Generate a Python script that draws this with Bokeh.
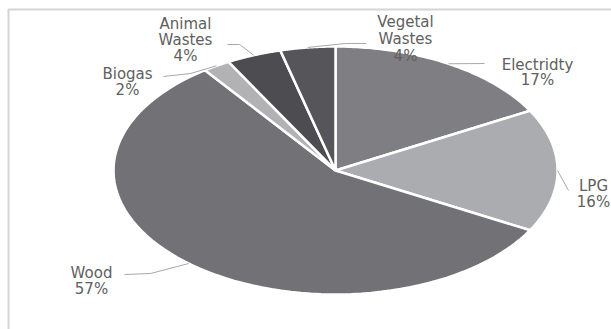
import numpy as np
from bokeh.plotting import figure
from bokeh.models import Range1d, ColumnDataSource
from bokeh.core.properties import value
from bokeh.embed import file_html
from bokeh.resources import INLINE

# ---- data ----
categories = ["Electridty", "LPG", "Wood", "Biogas", "Animal Wastes", "Vegetal Wastes"]
shares = [17, 16, 57, 2, 4, 4]
label_lines = [["Electridty", "17%"], ["LPG", "16%"], ["Wood", "57%"],
               ["Biogas", "2%"], ["Animal", "Wastes", "4%"], ["Vegetal", "Wastes", "4%"]]

# ---- styles / layout ----
colors = ["#7e7e83", "#abacaf", "#717176", "#b2b2b4", "#4c4c51", "#55555a"]
W, H = 611, 329
cx, cy, rx, ry = 335, 170, 222, 124
label_pos = {  # center x, first line y, line step
    "Electridty": (537, 64, 15),
    "LPG": (593, 185, 16),
    "Wood": (91, 272, 16),
    "Biogas": (127, 73, 16),
    "Animal Wastes": (185, 23, 16),
    "Vegetal Wastes": (405, 21, 17),
}
leaders = {
    "Electridty": [(None, None), (484, 63)],
    "LPG": [(None, None), (568, 190)],
    "Wood": [(None, None), (150, 273), (124, 274)],
    "Biogas": [(None, None), (190, 73), (163, 76)],
    "Animal Wastes": [(None, None), (239, 44), (227, 44)],
    "Vegetal Wastes": [(None, None), (345, 43), (366, 43)],
}

p = figure(width=W, height=H, output_backend="svg", toolbar_location=None,
           x_range=Range1d(0, W), y_range=Range1d(H, 0), min_border=0)
p.axis.visible = False
p.grid.visible = False
p.outline_line_color = None
p.background_fill_color = "white"
p.border_fill_color = "white"

# chart frame (extends beyond the visible window right and bottom)
p.line([8, 8, W + 20], [H + 20, 9, 9], line_color="#d4d4d4", line_width=2)

# pie slices (clockwise from 12 o'clock), circle stretched into an ellipse
total = float(sum(shares))
cum = np.concatenate([[0], np.cumsum(shares)]) / total * 2 * np.pi
xs, ys, mids = [], [], []
for i in range(len(shares)):
    t = np.linspace(cum[i], cum[i + 1], 80)
    xs.append(list(np.concatenate([[cx], cx + rx * np.sin(t), [cx]])))
    ys.append(list(np.concatenate([[cy], cy - ry * np.cos(t), [cy]])))
    mids.append((cum[i] + cum[i + 1]) / 2)
src = ColumnDataSource(dict(xs=xs, ys=ys, color=colors))
p.patches("xs", "ys", source=src, fill_color="color", line_color="white", line_width=2.5)

# leader lines
for i, cat in enumerate(categories):
    m = mids[i]
    pts = leaders[cat]
    lx = [cx + rx * np.sin(m)] + [q[0] for q in pts[1:]]
    ly = [cy - ry * np.cos(m)] + [q[1] for q in pts[1:]]
    p.line(lx, ly, line_color="#a8a8a8", line_width=1)

# labels
tx, ty, tt = [], [], []
for i, cat in enumerate(categories):
    x0, y0, step = label_pos[cat]
    for k, line in enumerate(label_lines[i]):
        tx.append(x0)
        ty.append(y0 + k * step)
        tt.append(line)
p.text(tx, ty, text=tt, text_align="center", text_baseline="middle",
       text_font=value("DejaVu Sans"), text_font_size="15px", text_color="#606060")

open("out.html", "w").write(file_html(p, INLINE))
